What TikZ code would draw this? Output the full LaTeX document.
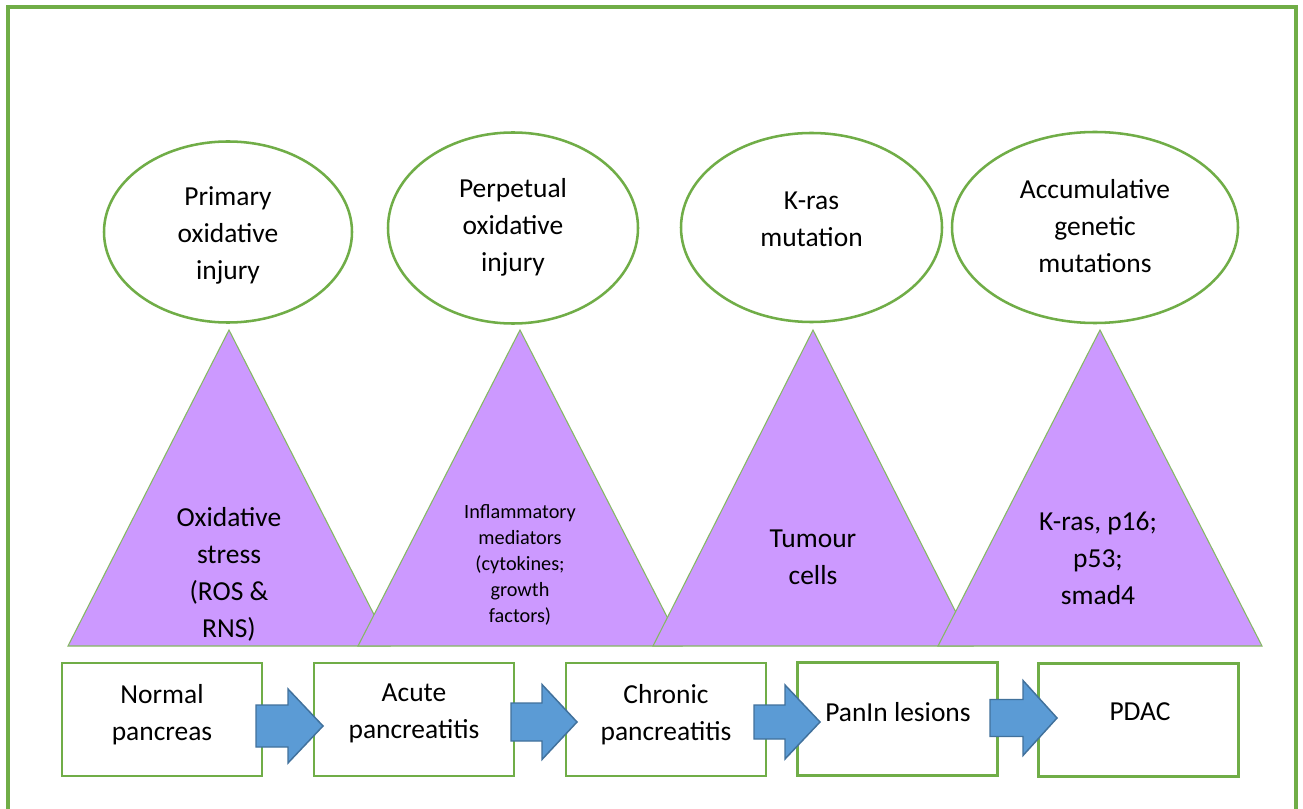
\documentclass[tikz,border=0pt]{standalone}
\usepackage{fontspec}
\setmainfont{Carlito}
\usetikzlibrary{shapes.geometric}
\definecolor{grn}{HTML}{70AD47}
\definecolor{purp}{HTML}{CC99FF}
\definecolor{ablue}{HTML}{5B9BD5}
\definecolor{ablueb}{HTML}{41719C}
\newcommand\blockarrow[6]{%
  \draw[barr] (#1,#4-#5) -- (#2,#4-#5) -- (#2,#4-#6) -- (#3,#4) -- (#2,#4+#6) -- (#2,#4+#5) -- (#1,#4+#5) -- cycle;}
\begin{document}
\begin{tikzpicture}[x=0.75pt,y=-0.75pt,
  ell/.style={ellipse, draw=grn, line width=1.9pt, inner sep=0pt},
  box/.style={rectangle, draw=grn, line width=1.8pt, fill=white, inner sep=0pt, minimum width=150pt, minimum height=84.75pt},
  txt/.style={align=center, font=\fontsize{20.6}{27.75}\selectfont, inner sep=0pt, text=black},
  stxt/.style={align=center, font=\fontsize{15.2}{19.5}\selectfont, inner sep=0pt, text=black},
  tri/.style={fill=purp, draw=grn!85!white, line width=0.8pt, line join=miter},
  barr/.style={fill=ablue, draw=ablueb, line width=1.1pt, line join=miter},
  frame/.style={draw=grn, line width=2.3pt}]
\useasboundingbox (0,0) rectangle (1303,809);
\clip (0,0) rectangle (1303,809);
\fill[white] (0,0) rectangle (1303,809);
\draw[frame] (8,840) -- (8,7) -- (1296,7) -- (1296,840);

% ellipses
\node[ell, minimum width=186pt, minimum height=135.75pt] (e1) at (228,232) {};
\node[ell, minimum width=187.5pt, minimum height=143.25pt] (e2) at (513,228) {};
\node[ell, minimum width=195.75pt, minimum height=141.75pt] (e3) at (811.5,227.5) {};
\node[ell, minimum width=214.5pt, minimum height=143.25pt] (e4) at (1095,227.5) {};
\node[txt] (e1t) at (228,235) {Primary\\oxidative\\injury};
\node[txt] (e2t) at (513,227) {Perpetual\\oxidative\\injury};
\node[txt] (e3t) at (811.5,219) {K-ras\\mutation};
\node[txt] (e4t) at (1095,226) {Accumulative\\genetic\\mutations};

% triangles
\coordinate (t1a) at (229,330); \coordinate (t1l) at (68,646); \coordinate (t1r) at (390,646);
\coordinate (t2a) at (520,330); \coordinate (t2l) at (358,646); \coordinate (t2r) at (682,646);
\coordinate (t3a) at (813,330); \coordinate (t3l) at (653,646); \coordinate (t3r) at (973,646);
\coordinate (t4a) at (1100,330); \coordinate (t4l) at (938,646); \coordinate (t4r) at (1262,646);
\draw[tri] (t1a) -- (t1l) -- (t1r) -- cycle;
\draw[tri] (t2a) -- (t2l) -- (t2r) -- cycle;
\draw[tri] (t3a) -- (t3l) -- (t3r) -- cycle;
\draw[tri] (t4a) -- (t4l) -- (t4r) -- cycle;
\node[txt] (t1t) at (229,574) {Oxidative\\stress\\(ROS \&\\RNS)};
\node[stxt] (t2t) at (520,565) {Inflammatory\\mediators\\(cytokines;\\growth\\factors)};
\node[txt] (t3t) at (813,557) {Tumour\\cells};
\node[txt] (t4t) at (1098,558) {K-ras, p16;\\p53;\\smad4};

% boxes
\node[box] (b1) at (162,719.5) {};
\node[box] (b2) at (414,719.5) {};
\node[box] (b3) at (666,719.5) {};
\node[box] (b4) at (897.5,719) {};
\node[box] (b5) at (1138.5,720) {};
\node[txt] (b1t) at (162,715) {Normal\\pancreas};
\node[txt] (b2t) at (414,713) {Acute\\pancreatitis};
\node[txt] (b3t) at (666,714.5) {Chronic\\pancreatitis};
\node[txt] (b4t) at (898,712) {PanIn lesions};
\node[txt] (b5t) at (1140,712) {PDAC};

% block arrows between boxes
\blockarrow{256}{288}{323}{726}{21}{37}
\blockarrow{511}{542}{577}{722}{19}{37.5}
\blockarrow{754}{785}{820}{722}{17}{37}
\blockarrow{990}{1023}{1057}{718}{18.5}{37.5}
\end{tikzpicture}
\end{document}
